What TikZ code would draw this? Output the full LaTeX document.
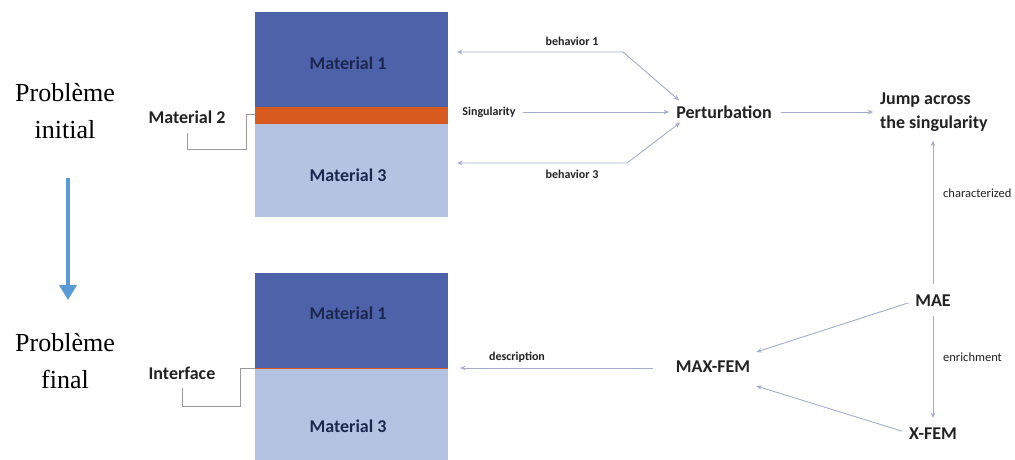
\documentclass[tikz,border=0pt]{standalone}
\usepackage{fontspec}
\setmainfont{Carlito}
\newfontfamily\timesf{Liberation Serif}
\usetikzlibrary{arrows.meta,calc}
\definecolor{matA}{HTML}{4E62AA}
\definecolor{matC}{HTML}{B4C3E1}
\definecolor{matB}{HTML}{D85A1E}
\definecolor{navy}{HTML}{1C2750}
\definecolor{connc}{HTML}{A3ADCF}
\definecolor{leadc}{HTML}{9A9A9A}
\definecolor{bigarrowc}{HTML}{5B9BD5}
\definecolor{txt}{HTML}{222222}
\begin{document}
\begin{tikzpicture}[x=1pt,y=-1pt,
  big/.style={font=\fontsize{18}{24}\selectfont\bfseries, text=txt, inner sep=1pt},
  mat/.style={font=\fontsize{18}{20}\selectfont\bfseries, text=navy, inner sep=1pt},
  lab/.style={font=\fontsize{12}{14}\selectfont\bfseries, text=txt, inner sep=1pt},
  slab/.style={font=\fontsize{12.5}{14}\selectfont, text=txt, inner sep=1pt},
  conn/.style={draw=connc, line width=0.9pt, -{Stealth[length=5.5pt,width=4.5pt]}},
  connboth/.style={draw=connc, line width=0.9pt, {Stealth[length=5.5pt,width=4.5pt]}-{Stealth[length=5.5pt,width=4.5pt]}},
  leadl/.style={draw=leadc, line width=0.9pt},
  prob/.style={font=\timesf\fontsize{26}{37}\selectfont, align=center, text=black, inner sep=1pt}]
\useasboundingbox (0,0) rectangle (1015,460);
\fill[white] (0,0) rectangle (1015,460);

% left captions
\node[prob] (pi) at (65,111) {Problème\\initial};
\node[prob] (pf) at (65,361) {Problème\\final};
\coordinate (baS) at (68,178);
\coordinate (baE) at (68,300);
\draw[bigarrowc, line width=4pt, -{Triangle[length=15pt,width=17pt]}] (baS) -- (baE);

% top block
\fill[matA] (255,12) rectangle (448,107);
\fill[matB] (255,107) rectangle (448,124);
\fill[matC] (255,124) rectangle (448,217);
\node[mat] (m1a) at (348,63) {Material 1};
\node[mat] (m3a) at (348,175) {Material 3};
\node[big] (m2) at (187,117) {Material 2};
\coordinate (band) at (255,114);
\draw[leadl] (band) -- (246,114) -- (246,149) -| ([yshift=-8pt]m2.south);

% bottom block
\fill[matA] (255,273) rectangle (448,368);
\fill[matC] (255,368) rectangle (448,460);
\draw[matB, line width=1pt] (255,368) -- (448,368);
\node[mat] (m1b) at (348,313) {Material 1};
\node[mat] (m3b) at (348,426) {Material 3};
\node[big] (iface) at (182,373) {Interface};
\coordinate (ifl) at (255,368);
\draw[leadl] (ifl) -- (240,368) -- (240,406) -| ([yshift=-7pt]iface.south);

% top flow
\node[big] (pert) at (724,112) {Perturbation};
\node[lab] (sing) at (489,112) {Singularity};
\node[big, align=left, anchor=west] (jump) at (879,112) {Jump across\\the singularity};
\coordinate (b1L) at (457,52);
\coordinate (b1K) at (623,52);
\coordinate (b3L) at (457,163);
\coordinate (b3K) at (627,163);
\draw[connboth] (b1L) -- (b1K) -- ($(pert.north west)+(4,-4)$);
\draw[connboth] (b3L) -- (b3K) -- ($(pert.south west)+(5,3)$);
\node[lab] (lb1) at (572,41) {behavior 1};
\node[lab] (lb3) at (572,174) {behavior 3};
\draw[conn, shorten <=6pt, shorten >=6pt] (sing.east) -- (sing.east -| pert.west);
\draw[conn, shorten <=8pt, shorten >=6pt] (pert.east) -- (pert.east -| jump.west);

% bottom flow
\node[big] (mae) at (933,301) {MAE};
\node[big] (xfem) at (933,434) {X-FEM};
\node[big] (maxfem) at (713,367) {MAX-FEM};
\draw[conn, shorten <=10pt, shorten >=8pt] (mae.north) -- (mae.north |- jump.south);
\node[slab, anchor=west] (lchar) at (942,193) {characterized};
\draw[conn, shorten <=8pt, shorten >=9pt] (mae.south) -- (xfem.north);
\node[slab, anchor=west] (lenr) at (942,357) {enrichment};
\draw[conn, shorten <=6pt] (mae.west) -- ($(maxfem.east)+(5,-15)$);
\draw[conn, shorten <=6pt] ($(xfem.west)+(0,-1)$) -- ($(maxfem.east)+(5,19)$);
\coordinate (descE) at (460,368);
\draw[conn, shorten <=22pt] (maxfem.west |- descE) -- (descE);
\node[lab] (ldesc) at (517,357) {description};
\end{tikzpicture}
\end{document}
